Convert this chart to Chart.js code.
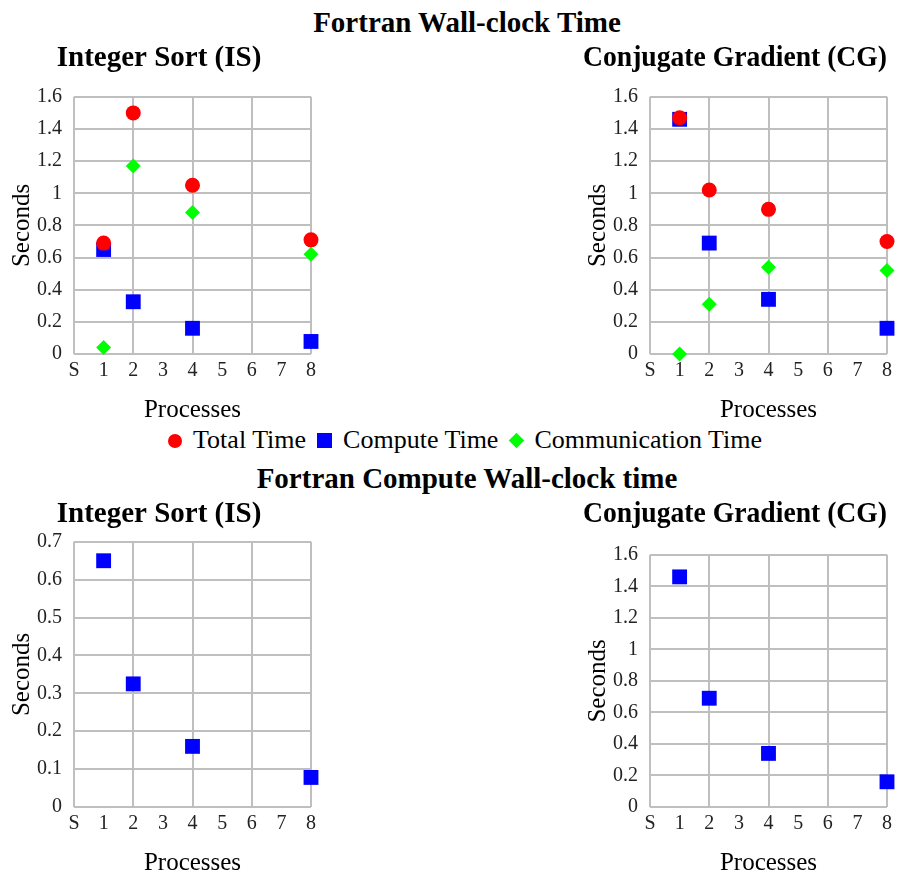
<!DOCTYPE html>
<html>
<head>
<meta charset="utf-8">
<script src="https://cdn.jsdelivr.net/npm/chart.js@4.4.1/dist/chart.umd.min.js"></script>
<style>
  body { margin: 0; background: #fff; font-family: "Liberation Serif", "DejaVu Serif", serif; overflow: hidden; }
  #page { position: relative; width: 902px; height: 878px; overflow: hidden; }
  .main-title { position: absolute; left: 0; width: 934px; text-align: center; font-family: "Liberation Serif", serif; font-weight: bold; font-size: 29px; line-height: 34px; }
  .box { position: absolute; }
  #legend { position: absolute; left: 0; width: 930px; top: 425px; text-align: center; font-family: "Liberation Serif", serif; font-size: 26px; line-height: 30px; }
  #legend span.item { margin-right: 11px; white-space: nowrap; }
  #legend span.item:last-child { margin-right: 0; }
  .mk { display: inline-block; width: 15px; height: 15px; margin-right: 11px; vertical-align: 0px; }
  .mk.circle { width: 14px; height: 14px; border-radius: 50%; }
  .mk.diamond { width: 11px; height: 11px; transform: rotate(45deg); margin: 0 12px 2px 2px; }
</style>
</head>
<body>
<div id="page">
  <div class="main-title" style="top:5px">Fortran Wall-clock Time</div>
  <div class="box" style="left:0;top:40px"><canvas id="is-wall" width="330" height="385"></canvas></div>
  <div class="box" style="left:576px;top:40px"><canvas id="cg-wall" width="326" height="385"></canvas></div>
  <div id="legend"></div>
  <div class="main-title" style="top:461px">Fortran Compute Wall-clock time</div>
  <div class="box" style="left:0;top:496px"><canvas id="is-compute" width="330" height="382"></canvas></div>
  <div class="box" style="left:576px;top:496px"><canvas id="cg-compute" width="326" height="382"></canvas></div>
</div>
<script>
// x positions (processes) and tick labels, "S" is the serial run at 0
const processes = [1, 2, 4, 8];
const xTickLabels = ['S', '1', '2', '3', '4', '5', '6', '7', '8'];

const seriesNames = ['Total Time', 'Compute Time', 'Communication Time'];
const seriesColors = ['#ff0000', '#0000ff', '#00ff00'];
const seriesShapes = ['circle', 'rect', 'rectRot'];

// Integer Sort (IS)
const isTotal = [0.69, 1.50, 1.05, 0.71];
const isCompute = [0.65, 0.325, 0.16, 0.078];
const isComm = [0.04, 1.17, 0.88, 0.62];

// Conjugate Gradient (CG)
const cgTotal = [1.47, 1.02, 0.90, 0.70];
const cgCompute = [1.46, 0.69, 0.34, 0.16];
const cgComm = [0.00, 0.31, 0.54, 0.52];

const gridColor = '#bfbfbf';
const serif = '"Liberation Serif", "DejaVu Serif", serif';
const pointSizes = { circle: 7.5, rect: 10.5, rectRot: 7.5 };

function toPoints(values) {
    return processes.map((p, i) => ({ x: p, y: values[i] }));
}

function makeDataset(seriesIndex, values) {
    const shape = seriesShapes[seriesIndex];
    return {
        label: seriesNames[seriesIndex],
        data: toPoints(values),
        backgroundColor: seriesColors[seriesIndex],
        borderColor: seriesColors[seriesIndex],
        borderWidth: 0,
        clip: false,
        pointStyle: shape,
        pointRadius: pointSizes[shape],
        pointHoverRadius: pointSizes[shape]
    };
}

function makeChart(canvasId, title, datasets, yMax, yStep, titleGap, rightPad) {
    return new Chart(document.getElementById(canvasId), {
        type: 'scatter',
        data: { datasets: datasets },
        options: {
            responsive: false,
            animation: false,
            layout: { padding: { left: 7, right: rightPad, top: 0, bottom: 0 } },
            plugins: {
                legend: { display: false },
                tooltip: { enabled: false },
                title: {
                    display: true,
                    text: title,
                    color: '#000',
                    font: { family: serif, size: 29, weight: 'bold' },
                    padding: { top: 1, bottom: titleGap }
                }
            },
            scales: {
                x: {
                    type: 'linear',
                    min: 0,
                    max: 8,
                    ticks: {
                        stepSize: 1,
                        color: '#222',
                        font: { family: serif, size: 20 },
                        padding: 5,
                        callback: (value) => xTickLabels[value]
                    },
                    grid: {
                        drawTicks: false,
                        lineWidth: 2,
                        color: (ctx) => (ctx.tick && ctx.tick.value % 2 === 0) ? gridColor : 'rgba(0,0,0,0)'
                    },
                    border: { display: false },
                    title: {
                        display: true,
                        text: 'Processes',
                        color: '#000',
                        font: { family: serif, size: 25 },
                        padding: { top: 7, bottom: 0 }
                    }
                },
                y: {
                    min: 0,
                    max: yMax,
                    afterFit: (scale) => { scale.width = 67; },
                    ticks: {
                        stepSize: yStep,
                        color: '#222',
                        font: { family: serif, size: 20 },
                        padding: 12,
                        callback: (value) => String(+value.toFixed(1))
                    },
                    grid: { drawTicks: false, lineWidth: 2, color: gridColor },
                    border: { display: false },
                    title: {
                        display: true,
                        text: 'Seconds',
                        color: '#000',
                        font: { family: serif, size: 25 },
                        padding: { top: 0, bottom: 0 }
                    }
                }
            }
        }
    });
}

makeChart('is-wall', 'Integer Sort (IS)', [
    makeDataset(0, isTotal),
    makeDataset(1, isCompute),
    makeDataset(2, isComm)
], 1.6, 0.2, 21, 19);

makeChart('cg-wall', 'Conjugate Gradient (CG)', [
    makeDataset(0, cgTotal),
    makeDataset(1, cgCompute),
    makeDataset(2, cgComm)
], 1.6, 0.2, 21, 15);

makeChart('is-compute', 'Integer Sort (IS)', [makeDataset(1, isCompute)], 0.7, 0.1, 10, 19);
makeChart('cg-compute', 'Conjugate Gradient (CG)', [makeDataset(1, cgCompute)], 1.6, 0.2, 23, 15);

// shared legend for the wall-clock charts
const $legend = document.getElementById('legend');
seriesNames.forEach((name, i) => {
    const item = document.createElement('span');
    item.className = 'item';
    const marker = document.createElement('span');
    marker.className = 'mk ' + (seriesShapes[i] === 'circle' ? 'circle' : (seriesShapes[i] === 'rectRot' ? 'diamond' : ''));
    marker.style.background = seriesColors[i];
    item.appendChild(marker);
    item.appendChild(document.createTextNode(name));
    $legend.appendChild(item);
});
</script>
</body>
</html>
